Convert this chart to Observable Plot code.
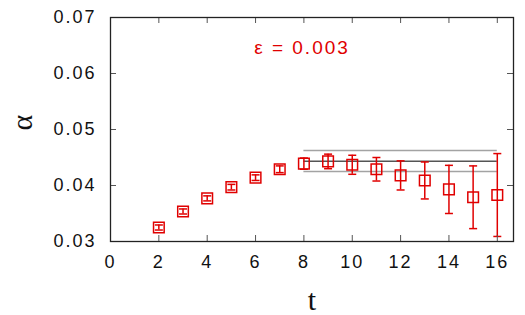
<!DOCTYPE html>
<html><head><meta charset="utf-8">
<script src="https://cdn.jsdelivr.net/npm/d3@7"></script>
<script src="https://cdn.jsdelivr.net/npm/@observablehq/plot@0.6"></script>
<style>
body{margin:0;background:#fff}
svg{display:block}
text.sans{letter-spacing:2px}
</style>
</head><body><div id="chart"></div>
<script>
// data
const tValues = [2, 3, 4, 5, 6, 7, 8, 9, 10, 11, 12, 13, 14, 15, 16];
const alphaValues = [0.0325, 0.03536, 0.0377, 0.0397, 0.0414, 0.0429, 0.0439, 0.0443, 0.0437, 0.0429, 0.0418, 0.0409, 0.0393, 0.0379, 0.0383];
const alphaErrors = [0.00045, 0.00045, 0.00045, 0.0005, 0.0005, 0.0006, 0.001, 0.0013, 0.0017, 0.0021, 0.0026, 0.0033, 0.0043, 0.0056, 0.0074];
const fitBand = [0.0425, 0.04434, 0.04625]; // low, central, high
const fitRange = [8, 16];
const xTicks = [0, 2, 4, 6, 8, 10, 12, 14, 16];
const yTicks = [0.03, 0.04, 0.05, 0.06, 0.07];
const epsLabel = "ε = 0.003";
const xLabel = "t";
const yLabel = "α";

const red = "#e00000";
const data = tValues.map((t, i) => ({t, a: alphaValues[i], e: alphaErrors[i]}));
const capSymbol = {draw(ctx, size) { const w = Math.sqrt(size / Math.PI); ctx.moveTo(-w, 0); ctx.lineTo(w, 0); }};

const W = 525, H = 315, mL = 110, mR = 12, mT = 17, mB = 74;
const pw = W - mL - mR, ph = H - mT - mB, tk = 6;

const chart = Plot.plot({
  width: W, height: H,
  marginLeft: mL, marginRight: mR, marginTop: mT, marginBottom: mB,
  x: {domain: [0, 16.67]},
  y: {domain: [0.03, 0.07]},
  style: {fontFamily: "'Liberation Sans', Arial, sans-serif", background: "#fff", color: "#111"},
  marks: [
    Plot.ruleY([fitBand[0], fitBand[2]], {y: d => d, x1: fitRange[0], x2: fitRange[1], stroke: "#a3a3a3", strokeWidth: 1.4}),
    Plot.ruleY([fitBand[1]], {y: d => d, x1: fitRange[0], x2: fitRange[1], stroke: "#555", strokeWidth: 1.4}),
    Plot.ruleX(data, {x: "t", y1: d => d.a - d.e, y2: d => d.a + d.e, stroke: red, strokeWidth: 1.5}),
    Plot.dot(data, {x: "t", y: d => d.a - d.e, symbol: capSymbol, r: 4, stroke: red, strokeWidth: 1.5}),
    Plot.dot(data, {x: "t", y: d => d.a + d.e, symbol: capSymbol, r: 4, stroke: red, strokeWidth: 1.5}),
    Plot.dot(data, {x: "t", y: "a", symbol: "square", r: 6, stroke: red, strokeWidth: 1.5, fill: "none"}),
    Plot.tickX(xTicks, {x: d => d, insetTop: ph - tk, stroke: "#555"}),
    Plot.tickX(xTicks, {x: d => d, insetBottom: ph - tk, stroke: "#555"}),
    Plot.tickY(yTicks, {y: d => d, insetRight: pw - tk, stroke: "#555"}),
    Plot.tickY(yTicks, {y: d => d, insetLeft: pw - tk, stroke: "#555"}),
    Plot.frame({stroke: "#222", strokeWidth: 1.3}),
    Plot.axisX(xTicks, {tickSize: 0, tickPadding: 14, fontSize: 18, label: null, tickFormat: d => String(d)}),
    Plot.axisY(yTicks, {tickSize: 0, tickPadding: 14, fontSize: 18, label: null, tickFormat: d3.format(".2f")}),
    Plot.text([epsLabel], {text: d => d, frameAnchor: "top", dx: -10, dy: 30, lineAnchor: "middle", fill: red, fontSize: 19}),
    Plot.text([xLabel], {text: d => d, frameAnchor: "bottom", dy: 59, lineAnchor: "middle", fontSize: 30, fontFamily: "'Liberation Serif', 'Times New Roman', serif", fill: "#111"}),
    Plot.text([yLabel], {text: d => d, frameAnchor: "left", dx: -88, dy: 1, rotate: -90, lineAnchor: "middle", fontSize: 30, fontFamily: "'Liberation Serif', 'Times New Roman', serif", fill: "#111"})
  ]
});
d3.select(chart).selectAll("text").filter(function() {
  const t = this.textContent; return t !== xLabel && t !== yLabel;
}).classed("sans", true);
document.getElementById("chart").appendChild(chart);
</script>
</body></html>
